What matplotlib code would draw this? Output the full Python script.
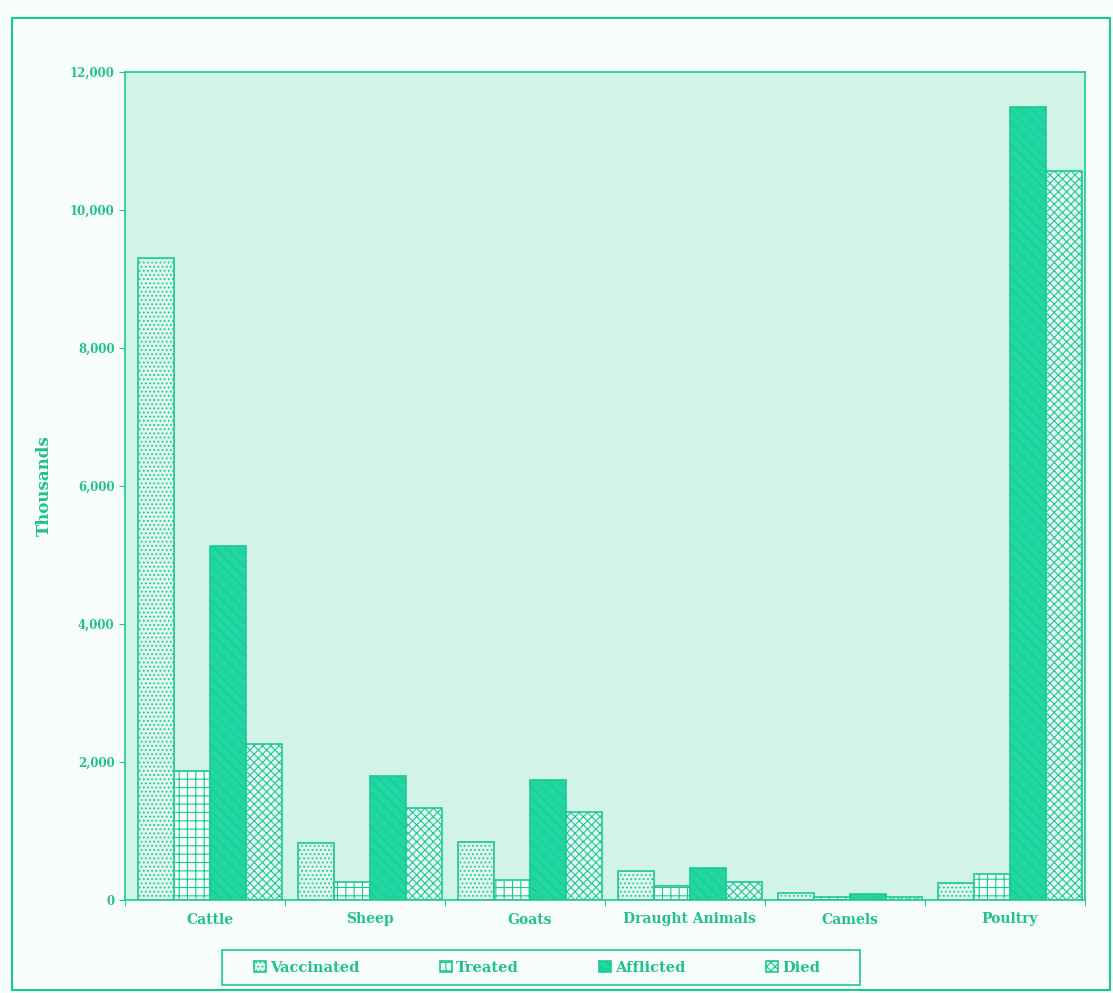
import matplotlib.pyplot as plt
import matplotlib.patches as mpatches
import numpy as np

plt.rcParams['font.family'] = ['DejaVu Serif']
plt.rcParams['hatch.linewidth'] = 0.8

categories = ["Cattle", "Sheep", "Goats", "Draught Animals", "Camels", "Poultry"]
vaccinated = [9300, 820, 840, 420, 100, 250]
treated = [1870, 260, 290, 200, 40, 380]
afflicted = [5130, 1800, 1740, 460, 80, 11490]
died = [2260, 1330, 1275, 260, 40, 10570]
series_names = ["Vaccinated", "Treated", "Afflicted", "Died"]

green = "#1cc995"
text_green = "#22c08e"
W, H = 1113, 993

fig = plt.figure(figsize=(W / 100, H / 100), dpi=100, facecolor="#f6fdfb")
ax = fig.add_axes([125 / W, 93 / H, 960 / W, 828 / H])
ax.set_facecolor("#d2f4e8")

x = np.arange(len(categories))
w = 0.225
styles = [
    dict(facecolor="#dff6ee", hatch="...."),
    dict(facecolor="#f4fcf9", hatch="++"),
    dict(facecolor="#21d6a0", hatch="\\\\\\"),
    dict(facecolor="#e8faf3", hatch="xxxx"),
]
for i, vals in enumerate([vaccinated, treated, afflicted, died]):
    ax.bar(x + 0.03 + (i - 1.5) * w, vals, w, edgecolor=green, linewidth=1.2,
           label=series_names[i], **styles[i])

ax.set_xlim(-0.5, len(categories) - 0.5)
ax.set_ylim(0, 12000)
ax.set_yticks(range(0, 12001, 2000))
ax.set_yticklabels([f"{v:,}" for v in range(0, 12001, 2000)],
                   fontsize=8.5, fontweight="bold", color=text_green)
ax.set_xticks(np.arange(-0.5, len(categories), 1))
ax.set_xticklabels([])
ax.set_xticks(x + 0.03, minor=True)
ax.set_xticklabels(categories, minor=True, fontsize=10, fontweight="bold",
                   color=text_green)
ax.tick_params(axis="x", which="minor", length=0, pad=9)
ax.tick_params(axis="both", which="major", color=green, length=4)
for s in ax.spines.values():
    s.set_color(green)
    s.set_linewidth(1.2)

ax.set_ylabel("Thousands", fontsize=12, fontweight="bold", color=text_green,
              labelpad=12)

# legend box drawn separately, entries spread inside it
box = mpatches.Rectangle((222 / W, 1 - 985 / H), 638 / W, 35 / H,
                         transform=fig.transFigure, fill=True,
                         facecolor="#f6fdfb", edgecolor=green, linewidth=1.2)
fig.patches.append(box)
leg = fig.legend(loc="center", mode="expand",
                 bbox_to_anchor=(254 / W, 1 - 985 / H, 566 / W, 35 / H),
                 ncol=4, frameon=False,
                 prop=dict(weight="bold", size=10.5), handlelength=0.8,
                 handleheight=0.8, handletextpad=0.3, borderpad=0,
                 borderaxespad=0)
for t in leg.get_texts():
    t.set_color(text_green)

frame = mpatches.Rectangle((12 / W, 3 / H), 1098 / W, 972 / H,
                           transform=fig.transFigure, fill=False,
                           edgecolor=green, linewidth=1.5)
fig.patches.append(frame)

fig.savefig("out.png", dpi=100, facecolor=fig.get_facecolor())
